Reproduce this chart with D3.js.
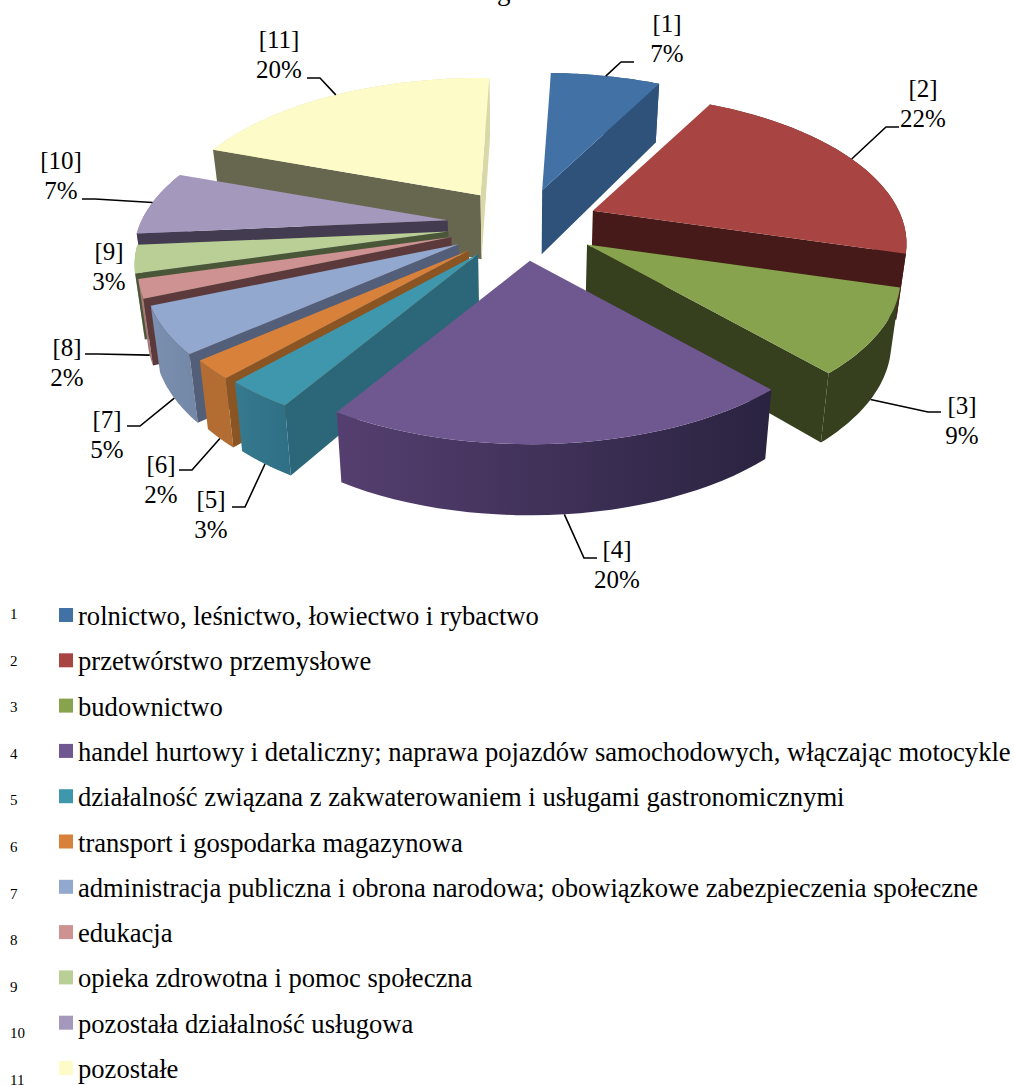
<!DOCTYPE html>
<html>
<head>
<meta charset="utf-8">
<script src="https://d3js.org/d3.v7.min.js"></script>
<style>
  html, body { margin: 0; padding: 0; background: #fff; overflow: hidden; }
  text { font-family: "Liberation Serif", serif; fill: #000; }
</style>
</head>
<body>
<div id="chart"></div>
<script>
// chart data
const categories = [
    "rolnictwo, leśnictwo, łowiectwo i rybactwo",
    "przetwórstwo przemysłowe",
    "budownictwo",
    "handel hurtowy i detaliczny; naprawa pojazdów samochodowych, włączając motocykle",
    "działalność związana z zakwaterowaniem i usługami gastronomicznymi",
    "transport i gospodarka magazynowa",
    "administracja publiczna i obrona narodowa; obowiązkowe zabezpieczenia społeczne",
    "edukacja",
    "opieka zdrowotna i pomoc społeczna",
    "pozostała działalność usługowa",
    "pozostałe"
];
const sliceIds = [1, 2, 3, 4, 5, 6, 7, 8, 9, 10, 11];
const percents = [7, 22, 9, 20, 3, 2, 5, 2, 3, 7, 20];

// colours
const topColors = ["#4271a6", "#a84543", "#87a34d", "#6f5790", "#3f97ae", "#d8813b", "#92a8cf", "#ce9292", "#b9cf96", "#a598bd", "#fdfcc8"];
const wallColors = ["#2f527a", "#461a18", "#363f1e", "#2c2440", "#2b6778", "#8a5522", "#535f78", "#5c3a3c", "#4a5638", "#433c50", "#676750"];
const rimColors = ["#2f527a", "#461a18", "#363f1e", "#553f70", "#367a8f", "#b36d33", "#7b8fb0", "#a87878", "#9aad7c", "#8a7ea0", "#d8d8a8"];
const rimColorsDark = ["#2f527a", "#461a18", "#363f1e", "#2a2340", "#2f7086", "#b36d33", "#7488a8", "#a87878", "#9aad7c", "#8a7ea0", "#d8d8a8"];

// layout of the labels and leader lines (elbow 0 = no leader)
const labelX = [667, 923, 962, 617, 211, 161, 107, 67, 109, 61, 279];
const labelY = [32, 97, 414, 558, 508, 473, 428, 356, 260, 169, 48];
const elbowX = [621, 886, 928, 584, 245, 192, 140, 98, 0, 95, 320];
const elbowY = [62, 127, 412, 558, 507, 470, 426, 354, 0, 199, 78];
const leaderDepth = [0, 0, 1, 1, 1, 1, 1, 1, 0, 0, 0];

const width = 1014;
const height = 1085;

const svg = d3.select("#chart").append("svg")
    .attr("width", width)
    .attr("height", height);

// pie angles, rotated a little past 12 o'clock
const rotation = 2 * Math.PI / 180;
const pie = d3.pie().sort(null).startAngle(rotation).endAngle(2 * Math.PI + rotation);
const slices = pie(percents);

// perspective used for the pie
const centerX = 523;
const centerY = 225;
const explodeX = 76;
const explodeY = 36;
const radiusX = 306;
const radiusY = 143;
const perspective = 0.22;
const thickness = 64;
const dropPerspective = 0.1;
const baseShrink = 0.975;

function apexOf(d) {
    const mid = (d.startAngle + d.endAngle) / 2;
    return [centerX + explodeX * Math.sin(mid), centerY - explodeY * Math.cos(mid)];
}

// point on a slice's rim, depth 0 = top face, depth 1 = bottom edge
function rimPoint(d, angle, depth) {
    const apex = apexOf(d);
    const v = -Math.cos(angle);
    const w = 1 - perspective * v;
    const x = apex[0] + radiusX * Math.sin(angle) / w;
    const y = apex[1] + radiusY * v / w;
    return dropPoint([x, y], thickness / (1 - dropPerspective * v), depth);
}

function dropPoint(p, drop, depth) {
    return [
        centerX + (p[0] - centerX) * (1 - (1 - baseShrink) * depth),
        p[1] + drop * depth
    ];
}

function apexPoint(d, depth) {
    return dropPoint(apexOf(d), thickness, depth);
}

function arcAngles(d) {
    return d3.range(0, 31).map(i => d.startAngle + (d.endAngle - d.startAngle) * i / 30);
}

const line = d3.line();

function cross(a, b, c) {
    return (b[0] - a[0]) * (c[1] - a[1]) - (b[1] - a[1]) * (c[0] - a[0]);
}

// radial wall faces the viewer when the slice's top lies on the far side of it
function wallVisible(d, angle) {
    const a = apexPoint(d, 0);
    const p = rimPoint(d, angle, 0);
    const inner = rimPoint(d, (d.startAngle + d.endAngle) / 2, 0);
    return cross(a, p, inner) * cross(a, p, [a[0], a[1] + 10]) < 0;
}

// back to front
const drawOrder = [10, 0, 1, 9, 8, 7, 6, 5, 4, 2, 3];

const defs = svg.append("defs");

drawOrder.forEach(i => {
    const d = slices[i];
    const g = svg.append("g");
    const angles = arcAngles(d);

    const topArc = angles.map(a => rimPoint(d, a, 0));
    const bottomArc = angles.map(a => rimPoint(d, a, 1));

    const gradId = "rim" + i;
    const grad = defs.append("linearGradient").attr("id", gradId)
        .attr("gradientUnits", "userSpaceOnUse")
        .attr("x1", d3.min(topArc, p => p[0])).attr("x2", d3.max(topArc, p => p[0]))
        .attr("y1", 0).attr("y2", 0);
    grad.append("stop").attr("offset", 0).attr("stop-color", rimColors[i]);
    grad.append("stop").attr("offset", 1).attr("stop-color", rimColorsDark[i]);

    g.append("path")
        .attr("d", line(topArc.concat(bottomArc.slice().reverse())) + "Z")
        .attr("fill", `url(#${gradId})`);

    [d.startAngle, d.endAngle].filter(a => wallVisible(d, a)).forEach(a => {
        // the last slice only shows a pale sliver on its right side
        const fill = (i === 10 && a === d.endAngle) ? rimColors[i] : wallColors[i];
        g.append("path")
            .attr("d", line([apexPoint(d, 0), rimPoint(d, a, 0), rimPoint(d, a, 1), apexPoint(d, 1)]) + "Z")
            .attr("fill", fill);
    });

    g.append("path")
        .attr("d", line([apexPoint(d, 0)].concat(topArc)) + "Z")
        .attr("fill", topColors[i]);
});

// leader lines
slices.forEach((d, i) => {
    if (elbowX[i] === 0) return;
    const mid = (d.startAngle + d.endAngle) / 2;
    const start = rimPoint(d, mid, leaderDepth[i]);
    const endX = elbowX[i] + (labelX[i] > start[0] ? 1 : -1) * 13;
    svg.append("path")
        .attr("d", line([start, [elbowX[i], elbowY[i]], [endX, elbowY[i]]]))
        .attr("fill", "none")
        .attr("stroke", "#000")
        .attr("stroke-width", 1.6);
});

// what is left of the title, cut off by the top edge of the picture
svg.append("text")
    .attr("x", 497)
    .attr("y", 0)
    .attr("font-size", 27)
    .text("g");

// data labels
slices.forEach((d, i) => {
    const t = svg.append("text")
        .attr("text-anchor", "middle")
        .attr("font-size", 25);
    t.append("tspan").attr("x", labelX[i]).attr("y", labelY[i]).text(`[${sliceIds[i]}]`);
    t.append("tspan").attr("x", labelX[i]).attr("y", labelY[i] + 30).text(`${d.data}%`);
});

// legend
const swatchY = d3.scalePoint().domain(sliceIds).range([615, 1068]);
const numberY = d3.scalePoint().domain(sliceIds).range([619, 1085]);

const legend = svg.append("g");
legend.selectAll("rect").data(sliceIds).join("rect")
    .attr("x", 59)
    .attr("y", d => swatchY(d) - 7)
    .attr("width", 14)
    .attr("height", 14)
    .attr("fill", (d, i) => topColors[i]);
legend.selectAll(".num").data(sliceIds).join("text")
    .attr("class", "num")
    .attr("x", 10)
    .attr("y", d => numberY(d))
    .attr("font-size", 15)
    .text(d => d);
legend.selectAll(".name").data(categories).join("text")
    .attr("class", "name")
    .attr("x", 78)
    .attr("y", (d, i) => swatchY(sliceIds[i]) + 10)
    .attr("font-size", 26.6)
    .text(d => d);
</script>
</body>
</html>
